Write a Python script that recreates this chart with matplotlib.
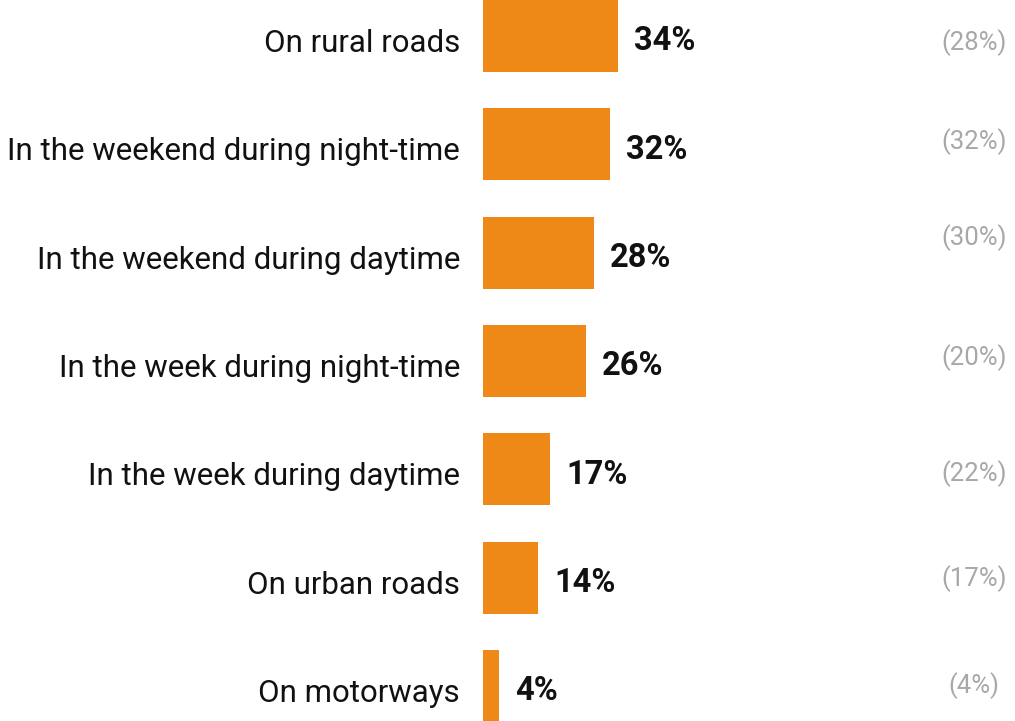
import matplotlib.pyplot as plt

categories = ["On rural roads", "In the weekend during night-time",
              "In the weekend during daytime", "In the week during night-time",
              "In the week during daytime", "On urban roads", "On motorways"]
values = [34, 32, 28, 26, 17, 14, 4]
previous = [28, 32, 30, 20, 22, 17, 4]

# small vertical nudges of the grey labels, as in the original layout
grey_dy = [0.06, -0.03, -0.14, -0.03, 0.04, 0.01, 0.0]

orange = '#EE8917'
px = 3.96  # pixels per percent

plt.rcParams['font.family'] = ['Roboto', 'DejaVu Sans']

fig = plt.figure(figsize=(10.15, 7.21), dpi=100)
ax = fig.add_axes([0, 0, 1, 1])
ax.set_xlim(-483 / px, (1015 - 483) / px)
ax.set_ylim((721 - 36) / 108.33, -36 / 108.33)
ax.axis('off')

ys = list(range(len(values)))
ax.barh(ys, values, height=0.665, color=orange, left=0)

for y, cat, v, p, dy in zip(ys, categories, values, previous, grey_dy):
    ax.text(-23 / px, y + 0.07, cat, ha='right', va='center', fontsize=22.5,
            color='#111111')
    ax.text(v + 16 / px, y + 0.05, f"{v}%", ha='left', va='center',
            fontsize=23.5, fontweight='bold', color='#111111')
    ax.text(124.0, y + dy, f"({p}%)", ha='center', va='center',
            fontsize=18.5, color='#A8A8A8')

fig.savefig('out.png', dpi=100)
